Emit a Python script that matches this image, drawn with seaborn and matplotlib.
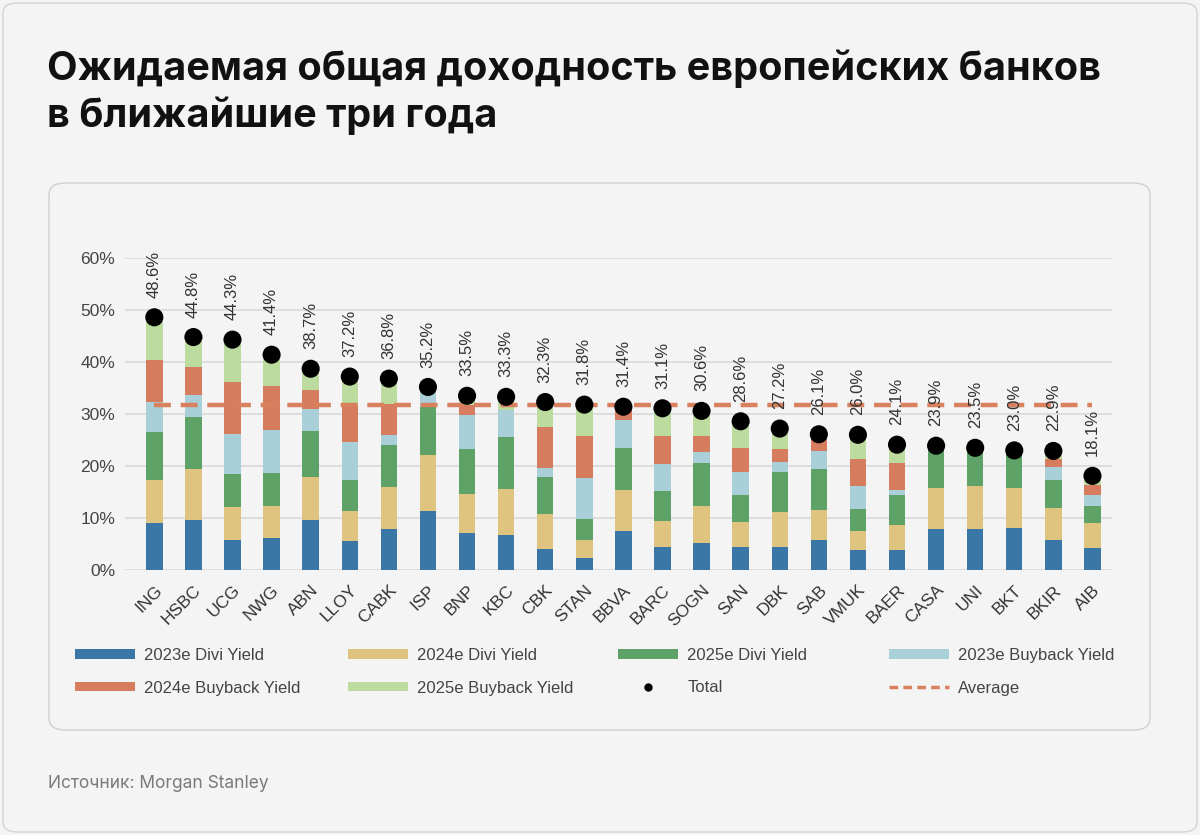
import numpy as np
import matplotlib
matplotlib.use("Agg")
import matplotlib.pyplot as plt
from matplotlib.patches import FancyBboxPatch, Patch
from matplotlib.lines import Line2D
import seaborn as sns

# Data (percent)
banks = ["ING", "HSBC", "UCG", "NWG", "ABN", "LLOY", "CABK", "ISP", "BNP", "KBC",
         "CBK", "STAN", "BBVA", "BARC", "SOGN", "SAN", "DBK", "SAB", "VMUK", "BAER",
         "CASA", "UNI", "BKT", "BKIR", "AIB"]
divi_2023 = [9.1, 9.6, 5.8, 6.1, 9.6, 5.5, 7.9, 11.4, 7.1, 6.8, 4.1, 2.4, 7.5, 4.5, 5.1,
             4.4, 4.5, 5.7, 3.9, 3.9, 7.8, 7.8, 8.0, 5.8, 4.2]
divi_2024 = [8.3, 9.8, 6.4, 6.2, 8.3, 5.8, 8.0, 10.7, 7.6, 8.8, 6.6, 3.4, 7.8, 5.0, 7.3,
             4.9, 6.6, 5.9, 3.6, 4.8, 8.0, 8.3, 7.8, 6.1, 4.8]
divi_2025 = [9.2, 10.1, 6.3, 6.4, 8.9, 6.1, 8.2, 9.3, 8.5, 9.9, 7.2, 4.0, 8.2, 5.7, 8.2,
             5.2, 7.7, 7.9, 4.3, 5.8, 8.1, 7.4, 7.2, 5.5, 3.4]
buyback_2023 = [5.7, 4.1, 7.6, 8.3, 4.1, 7.2, 1.8, 3.8, 6.6, 5.2, 1.8, 7.9, 5.4, 5.2, 2.1,
                4.3, 2.0, 3.3, 4.3, 0.9, 0.0, 0.0, 0.0, 2.5, 2.1]
buyback_2024 = [8.1, 5.5, 10.0, 8.4, 3.8, 7.1, 6.1, 0.0, 1.9, 0.0, 7.8, 8.1, 2.5, 5.3, 3.1,
                4.7, 2.4, 3.3, 5.3, 5.2, 0.0, 0.0, 0.0, 1.5, 1.8]
buyback_2025 = [8.2, 5.7, 8.2, 6.0, 4.0, 5.5, 4.8, 0.0, 1.8, 2.6, 4.8, 6.0, 0.0, 5.4, 4.8,
                5.1, 4.0, 0.0, 4.6, 3.5, 0.0, 0.0, 0.0, 1.5, 1.8]
totals = [48.6, 44.8, 44.3, 41.4, 38.7, 37.2, 36.8, 35.2, 33.5, 33.3, 32.3, 31.8, 31.4,
          31.1, 30.6, 28.6, 27.2, 26.1, 26.0, 24.1, 23.9, 23.5, 23.0, 22.9, 18.1]

series = [
    ("2023e Divi Yield", divi_2023, "#3a77a7"),
    ("2024e Divi Yield", divi_2024, "#dec47f"),
    ("2025e Divi Yield", divi_2025, "#5fa268"),
    ("2023e Buyback Yield", buyback_2023, "#a9cfd9"),
    ("2024e Buyback Yield", buyback_2024, "#d67d5f"),
    ("2025e Buyback Yield", buyback_2025, "#bcdb9f"),
]
average = np.mean(totals)

BG = "#f4f4f4"
W, H = 1200, 835
fig = plt.figure(figsize=(W / 100, H / 100), dpi=100, facecolor=BG)

# outer frame and inner card
fig.patches.append(FancyBboxPatch((3 / W, 3 / H), 1194 / W, 829 / H,
                                  boxstyle="round,pad=0,rounding_size=0.012",
                                  transform=fig.transFigure, facecolor=BG,
                                  edgecolor="#d4d4d4", linewidth=1.0, zorder=-2))
fig.patches.append(FancyBboxPatch((49 / W, (H - 730) / H), 1101 / W, 547 / H,
                                  boxstyle="round,pad=0,rounding_size=0.014",
                                  transform=fig.transFigure, facecolor=BG,
                                  edgecolor="#cfcfcf", linewidth=1.0, zorder=-1))

fig.text(47 / W, 1 - 50 / H,
         "Ожидаемая общая доходность европейских банков\nв ближайшие три года",
         fontsize=28.5, fontweight="bold", family="Inter", color="#111111",
         va="top", ha="left", linespacing=1.25)
fig.text(48 / W, 1 - 783 / H, "Источник: Morgan Stanley", fontsize=12.5,
         family="Inter", color="#7a7a7a", va="center", ha="left")

ax = fig.add_axes([125 / W, (H - 570) / H, (1112 - 125) / W, (570 - 258) / H])
ax.set_facecolor(BG)

# stacked bars: draw cumulative heights from the top down
cum = np.cumsum([s[1] for s in series], axis=0)
for i in range(len(series) - 1, -1, -1):
    sns.barplot(x=banks, y=cum[i], color=series[i][2], width=0.42,
                saturation=1, ax=ax, zorder=2, linewidth=0)

sns.scatterplot(x=banks, y=totals, color="black", s=170, edgecolor="none",
                ax=ax, zorder=4)
ax.hlines(average, 0, len(banks) - 1, colors="#d9805f", linewidth=3.2,
          linestyles=(0, (3.8, 2.2)), zorder=3)

for i, t in enumerate(totals):
    ax.annotate(f"{t:.1f}%", (i, t), xytext=(0, 14), textcoords="offset points",
                rotation=90, ha="center", va="bottom", fontsize=12,
                family="Liberation Sans", color="#333333", zorder=5)

ax.set_ylim(0, 60)
ax.set_xlim(-0.75, len(banks) - 0.5)
ax.set_yticks(range(0, 61, 10))
ax.set_yticklabels([f"{v}%" for v in range(0, 61, 10)])
ax.grid(axis="y", color="#d9d9d9", linewidth=1.2, zorder=0)
ax.set_axisbelow(True)
for sp in ax.spines.values():
    sp.set_visible(False)
ax.tick_params(length=0, labelsize=12.5, labelcolor="#444444")
ax.tick_params(axis="x", pad=9)
ax.tick_params(axis="y", pad=7)
ax.set_xlabel("")
ax.set_ylabel("")
for lab in ax.get_xticklabels():
    lab.set_rotation(45)
    lab.set_ha("right")
    lab.set_rotation_mode("anchor")
    lab.set_family("Liberation Sans")
    lab.set_color("#333333")
for lab in ax.get_yticklabels():
    lab.set_family("Liberation Sans")

# legend: four columns, two rows
handles = [Patch(facecolor=c, edgecolor="none", label=n) for n, _, c in series]
handles.append(Line2D([], [], marker="o", color="black", linestyle="none",
                      markersize=5, label="Total"))
handles.append(Line2D([], [], color="#d9805f", linewidth=2.5,
                      linestyle=(0, (2.5, 1.5)), label="Average"))
col_x = [60, 333, 603, 874]
for c in range(4):
    leg = fig.legend(handles=[handles[c], handles[c + 4]], loc="upper left",
                     bbox_to_anchor=(col_x[c] / W, 1 - 633 / H),
                     frameon=False, handlelength=3.6, handleheight=0.5,
                     handletextpad=0.55, labelspacing=1.05,
                     prop={"family": "Liberation Sans", "size": 12})
    for t in leg.get_texts():
        t.set_color("#444444")

fig.savefig("out.png", dpi=100, facecolor=BG)
